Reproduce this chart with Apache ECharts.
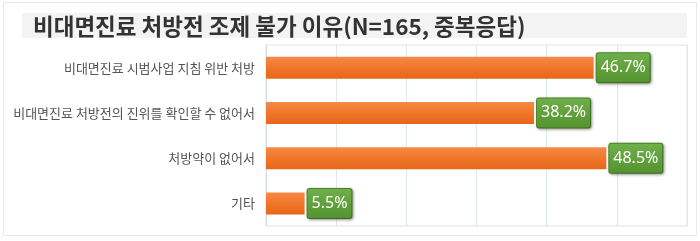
<!DOCTYPE html>
<html><head><meta charset="utf-8">
<script src="https://cdn.jsdelivr.net/npm/echarts@6/dist/echarts.min.js"></script>
<style>html,body{margin:0;padding:0;background:#fff}#c{width:700px;height:241px}</style>
</head><body><div id="c"></div>
<script>
const titleText = '비대면진료 처방전 조제 불가 이유(N=165, 중복응답)';
const categories = ['비대면진료 시범사업 지침 위반 처방', '비대면진료 처방전의 진위를 확인할 수 없어서', '처방약이 없어서', '기타'];
const values = [46.7, 38.2, 48.5, 5.5];

const chart = echarts.init(document.getElementById('c'), null, {renderer: 'canvas'});
chart.setOption({
  animation: false,
  backgroundColor: '#fff',
  graphic: [
    {type: 'rect', shape: {x: 3.5, y: 2.5, width: 693, height: 233}, style: {fill: 'none', stroke: '#e6e9ed', lineWidth: 1}, z: -10},
    {type: 'rect', shape: {x: 22, y: 13, width: 665, height: 25}, style: {fill: '#f3f3f3'}, z: -5}
  ],
  title: {
    text: titleText, left: 28, top: 10,
    textStyle: {fontFamily: 'Noto Sans CJK KR', fontSize: 22.5, fontWeight: 'bold', color: '#333'}
  },
  grid: {left: 266, right: 13, top: 45, bottom: 15, show: true, borderColor: '#dde4ec', borderWidth: 1},
  xAxis: {
    type: 'value', min: 0, max: 60, interval: 10,
    axisLabel: {show: false}, axisTick: {show: false}, axisLine: {show: false},
    splitLine: {lineStyle: {color: '#e1e7ee', width: 1}}
  },
  yAxis: {
    type: 'category', data: categories, inverse: true,
    axisTick: {show: false},
    axisLine: {show: true, lineStyle: {color: '#d8dee5'}},
    axisLabel: {fontFamily: 'Noto Sans CJK KR', fontSize: 13, color: '#555', margin: 11}
  },
  series: [{
    type: 'bar', data: values, barWidth: 22,
    itemStyle: {
      color: new echarts.graphic.LinearGradient(0, 0, 0, 1, [
        {offset: 0, color: '#f58a48'}, {offset: 0.5, color: '#f07628'}, {offset: 1, color: '#e8661a'}
      ])
    },
    label: {
      show: true, position: 'right', distance: 3,
      formatter: p => p.value.toFixed(1) + '%',
      fontFamily: 'Noto Sans', fontSize: 16, color: '#fff',
      backgroundColor: new echarts.graphic.LinearGradient(0, 0, 0, 1, [
        {offset: 0, color: '#6fb04a'}, {offset: 1, color: '#54932f'}
      ]),
      borderColor: '#4b8a2b', borderWidth: 1, borderRadius: 2,
      padding: [7, 4, 6, 4],
      shadowColor: 'rgba(0,0,0,0.35)', shadowBlur: 3, shadowOffsetX: 1, shadowOffsetY: 1
    }
  }]
});
</script></body></html>
